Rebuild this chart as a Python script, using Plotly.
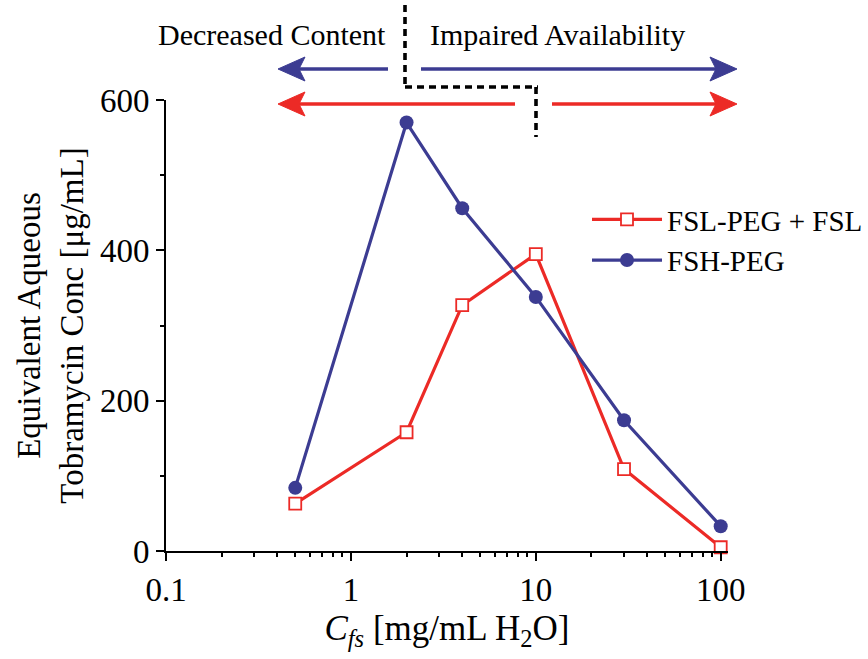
import plotly.graph_objects as go

# ---------------- data ----------------
conc = [0.5, 2, 4, 10, 30, 100]                 # C_fs [mg/mL H2O]
fsl_peg_fsl = [63, 158, 327, 395, 109, 5]       # FSL-PEG + FSL
fsh_peg = [84, 570, 456, 338, 174, 33]          # FSH-PEG
series_names = ["FSL-PEG + FSL", "FSH-PEG"]
x_tickvals = [0.1, 1, 10, 100]
x_ticktext = ["0.1", "1", "10", "100"]
y_tickvals = [0, 200, 400, 600]
region_labels = ["Decreased Content", "Impaired Availability"]

# ---------------- style ----------------
RED = "#EC2A26"
BLUE = "#3C3C92"
FONT = "Liberation Serif, Times New Roman, serif"
W, H = 868, 659
L, R, T, B = 166, 140, 100, 108
PW, PH = W - L - R, H - T - B


def px(x):
    return (x - L) / PW


def py(y):
    return (H - B - y) / PH


fig = go.Figure()
fig.add_trace(go.Scatter(
    x=conc, y=fsl_peg_fsl, name=series_names[0], mode="lines+markers",
    line=dict(color=RED, width=3.2),
    marker=dict(symbol="square", size=12, color="white",
                line=dict(color=RED, width=1.8)),
    cliponaxis=False,
))
fig.add_trace(go.Scatter(
    x=conc, y=fsh_peg, name=series_names[1], mode="lines+markers",
    line=dict(color=BLUE, width=3.2),
    marker=dict(symbol="circle", size=14, color=BLUE),
    cliponaxis=False,
))

shapes = []


def hline(x0, x1, y, color, width=3.4, dash=None):
    shapes.append(dict(type="line", xref="paper", yref="paper",
                       x0=px(x0), x1=px(x1), y0=py(y), y1=py(y),
                       line=dict(color=color, width=width, dash=dash)))


def vline(x, y0, y1, color, width=3.6, dash=None):
    shapes.append(dict(type="line", xref="paper", yref="paper",
                       x0=px(x), x1=px(x), y0=py(y0), y1=py(y1),
                       line=dict(color=color, width=width, dash=dash)))


def head(tipx, y, direction, color, length=27, half=12, notch=6):
    bx = tipx - direction * length
    nx = bx + direction * notch
    pts = [(tipx, y), (bx, y - half), (nx, y), (bx, y + half)]
    path = "M " + " L ".join(f"{px(a):.5f},{py(b):.5f}" for a, b in pts) + " Z"
    shapes.append(dict(type="path", xref="paper", yref="paper", path=path,
                       fillcolor=color, line=dict(color=color, width=1)))


# blue arrow (upper)
hline(298, 388, 69, BLUE)
hline(421, 716, 69, BLUE)
head(278, 69, -1, BLUE)
head(737, 69, 1, BLUE)
# red arrow (lower)
hline(298, 515, 104, RED)
hline(552, 716, 104, RED)
head(278, 104, -1, RED)
head(737, 104, 1, RED)
# dashed boundary
DASH = "7px,5px"
vline(405, 5, 87, "black", dash=DASH)
hline(405, 538, 87, "black", width=3.6, dash=DASH)
vline(536, 87, 137, "black", dash=DASH)

annotations = [
    dict(xref="paper", yref="paper", x=px(388), y=py(34), xanchor="right",
         yanchor="middle", text=region_labels[0], showarrow=False,
         font=dict(family=FONT, size=30, color="black")),
    dict(xref="paper", yref="paper", x=px(428), y=py(34), xanchor="left",
         yanchor="middle", text=region_labels[1], showarrow=False,
         font=dict(family=FONT, size=30, color="black")),
]

fig.update_layout(
    width=W, height=H,
    margin=dict(l=L, r=R, t=T, b=B, pad=0, autoexpand=False),
    paper_bgcolor="white", plot_bgcolor="white",
    font=dict(family=FONT, color="black", size=31),
    shapes=shapes, annotations=annotations,
    showlegend=True,
    legend=dict(x=px(587), y=py(194), xanchor="left", yanchor="top",
                bgcolor="rgba(0,0,0,0)", itemwidth=70,
                font=dict(family=FONT, size=29, color="black"),
                tracegroupgap=0),
)

fig.update_xaxes(
    type="log", range=[-1, 2.0395],
    showline=True, linecolor="black", linewidth=2,
    ticks="outside", ticklen=8, tickwidth=2, tickcolor="black",
    tickvals=x_tickvals, ticktext=x_ticktext,
    tickfont=dict(family=FONT, size=33),
    minor=dict(ticks="outside", ticklen=4, tickwidth=2, tickcolor="black",
               dtick="D1", showgrid=False),
    showgrid=False, zeroline=False, mirror=False,
    title=dict(text="<i>C</i><sub><i>fs</i></sub> [mg/mL H<sub>2</sub>O]",
               font=dict(family=FONT, size=35), standoff=9),
)
fig.update_yaxes(
    range=[0, 600],
    showline=True, linecolor="black", linewidth=2,
    ticks="outside", ticklen=8, tickwidth=2, tickcolor="black",
    tickvals=y_tickvals,
    tickfont=dict(family=FONT, size=33),
    minor=dict(ticks="outside", ticklen=4, tickwidth=2, tickcolor="black",
               dtick=100, showgrid=False),
    showgrid=False, zeroline=False, mirror=False,
    title=dict(text="Equivalent Aqueous<br>Tobramycin Conc [μg/mL]",
               font=dict(family=FONT, size=33), standoff=6),
)

fig.write_html("out.html")
